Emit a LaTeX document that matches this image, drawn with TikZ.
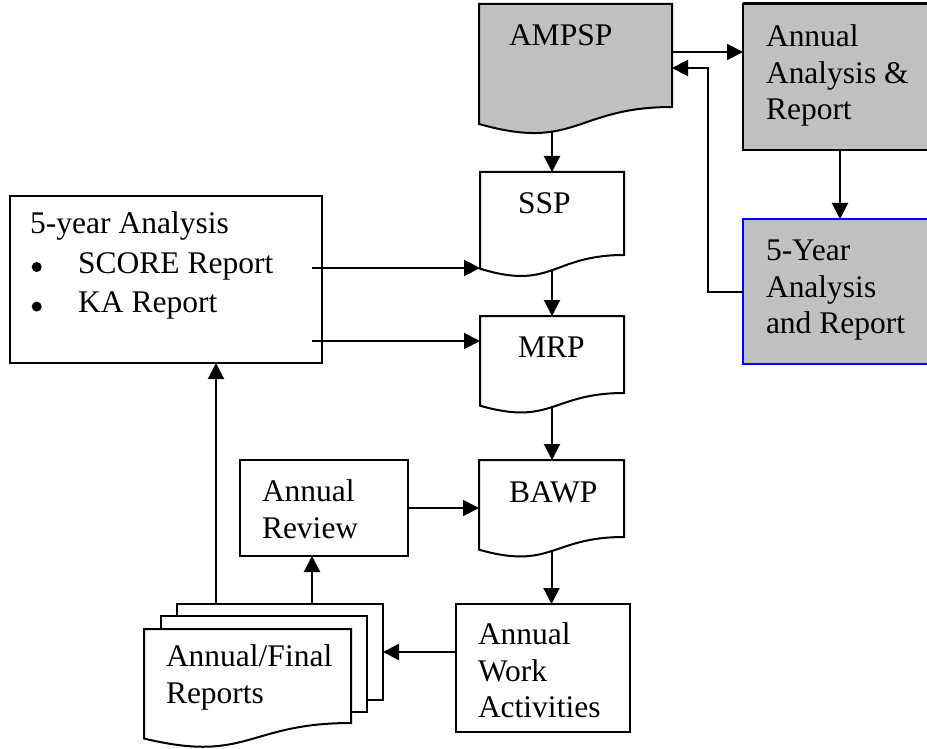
\documentclass[tikz,border=0pt]{standalone}
\usepackage{fontspec}
\setmainfont{Liberation Serif}
\usetikzlibrary{arrows.meta,calc,fit}
\definecolor{boxgray}{HTML}{C0C0C0}
\definecolor{boxblue}{HTML}{0000FF}
% document shape: [style]{left}{top}{right}{right-bottom}
\newcommand\docshape[5][]{%
  \pgfmathsetmacro\dsh{(#5-#3)/0.802}%
  \pgfmathsetmacro\dsyl{#3+0.934*\dsh}%
  \pgfmathsetmacro\dsyc{#3+1.15*\dsh}%
  \pgfmathsetmacro\dsmid{(#2+#4)/2}%
  \draw[#1] (#2,#3) -- (#4,#3) -- (#4,#5) .. controls (\dsmid,#5) and (\dsmid,\dsyc) .. (#2,\dsyl) -- cycle;}
\newcommand\bigbullet{\hspace{1.5pt}\raisebox{1pt}{\tikz[x=1pt,y=1pt]\fill (0,0) circle (5pt);}}
\begin{document}
\begin{tikzpicture}[x=1pt,y=-1pt,line width=2pt,
  arr/.style={-{Triangle[length=16pt,width=16pt]},line width=2pt},
  lbl/.style={anchor=north west,inner sep=0pt,align=left,font=\fontsize{31.5}{36.8}\selectfont},
  area/.style={inner sep=0pt,outer sep=0pt},
  boxed/.style={area,draw,line width=2pt}]
\useasboundingbox (0,0) rectangle (927,749);
\clip (0,0) rectangle (927,749);
\fill[white] (0,0) rectangle (927,749);

% ---- document shapes ----
\docshape[fill=boxgray]{479}{4}{672}{107}
\node[area,fit={(479,4) (672,131.5)}] (ampsp) {};
\node[lbl] (ampsp-t) at (508,24) {AMPSP};

\docshape[fill=white]{480}{172}{624}{255}
\node[area,fit={(480,172) (624,270)}] (ssp) {};
\node[lbl] (ssp-t) at (517,191.5) {SSP};

\docshape[fill=white]{480}{316}{624}{393}
\node[area,fit={(480,316) (624,407)}] (mrp) {};
\node[lbl] (mrp-t) at (517,336) {MRP};

\docshape[fill=white]{479}{460}{624}{537}
\node[area,fit={(479,460) (624,551)}] (bawp) {};
\node[lbl] (bawp-t) at (508,480.5) {BAWP};

% ---- multi-document ----
\node[boxed,fill=white,fit={(177,604) (383,700)}] (mdback) {};
\node[boxed,fill=white,fit={(161,616) (367,712)}] (mdmid) {};
\docshape[fill=white]{144}{629}{351}{723}
\node[area,fit={(144,629) (351,740)}] (mdfront) {};
\node[lbl] (md-t) at (165,643.5) {Annual/Final\\Reports};

% ---- rectangles ----
\node[boxed,fill=boxgray,fit={(743,4) (937,150)}] (ann) {};
\draw[line width=3pt] (ann.north west) -- (ann.north east);
\node[lbl] (ann-t) at (765,23.5) {Annual\\Analysis \&\\Report};

\node[boxed,draw=boxblue,fill=boxgray,fit={(743,219) (937,364)}] (fiveR) {};
\node[lbl] (fiveR-t) at (765,238.7) {5-Year\\Analysis\\and Report};

\node[boxed,fit={(10,196) (322,363)}] (fya) {};
\node[lbl,font=\fontsize{31.5}{39.5}\selectfont] (fya-t) at (30,211.5)
  {5-year Analysis\\\makebox[48pt][l]{\bigbullet}SCORE Report\\\makebox[48pt][l]{\bigbullet}KA Report};

\node[boxed,fit={(240,460) (408,556)}] (ar) {};
\node[lbl] (ar-t) at (261,478.5) {Annual\\Review};

\node[boxed,fit={(456,604) (630,732)}] (awa) {};
\node[lbl] (awa-t) at (477,621.5) {Annual\\Work\\Activities};

% ---- connectors ----
\draw[arr] (ampsp.east |- 0,52) -- (ann.west |- 0,52);
\draw[arr] (fiveR.west |- 0,292) -- (708,292) -- (708,68) -- (ampsp.east |- 0,68);
\draw[arr] (ann.south -| 840,0) -- (fiveR.north -| 840,0);
\draw[arr] (ampsp.south -| ssp.north) -- (ssp.north);
\draw[arr] (ssp.south) -- (mrp.north);
\draw[arr] (mrp.south) -- (bawp.north -| mrp.south);
\draw[arr] (bawp.south) -- (awa.north -| bawp.south);
\draw[arr] ($(fya.east |- 0,268)+(-10,0)$) -- (ssp.west |- 0,268);
\draw[arr] ($(fya.east |- 0,341)+(-10,0)$) -- (mrp.west |- 0,341);
\draw[arr] (ar.east) -- (bawp.west |- ar.east);
\draw[arr] (awa.west |- mdback.east) -- (mdback.east);
\draw[arr] (mdback.north -| 312,0) -- (ar.south -| 312,0);
\draw[arr] (mdback.north -| 216,0) -- (fya.south -| 216,0);
\end{tikzpicture}
\end{document}
